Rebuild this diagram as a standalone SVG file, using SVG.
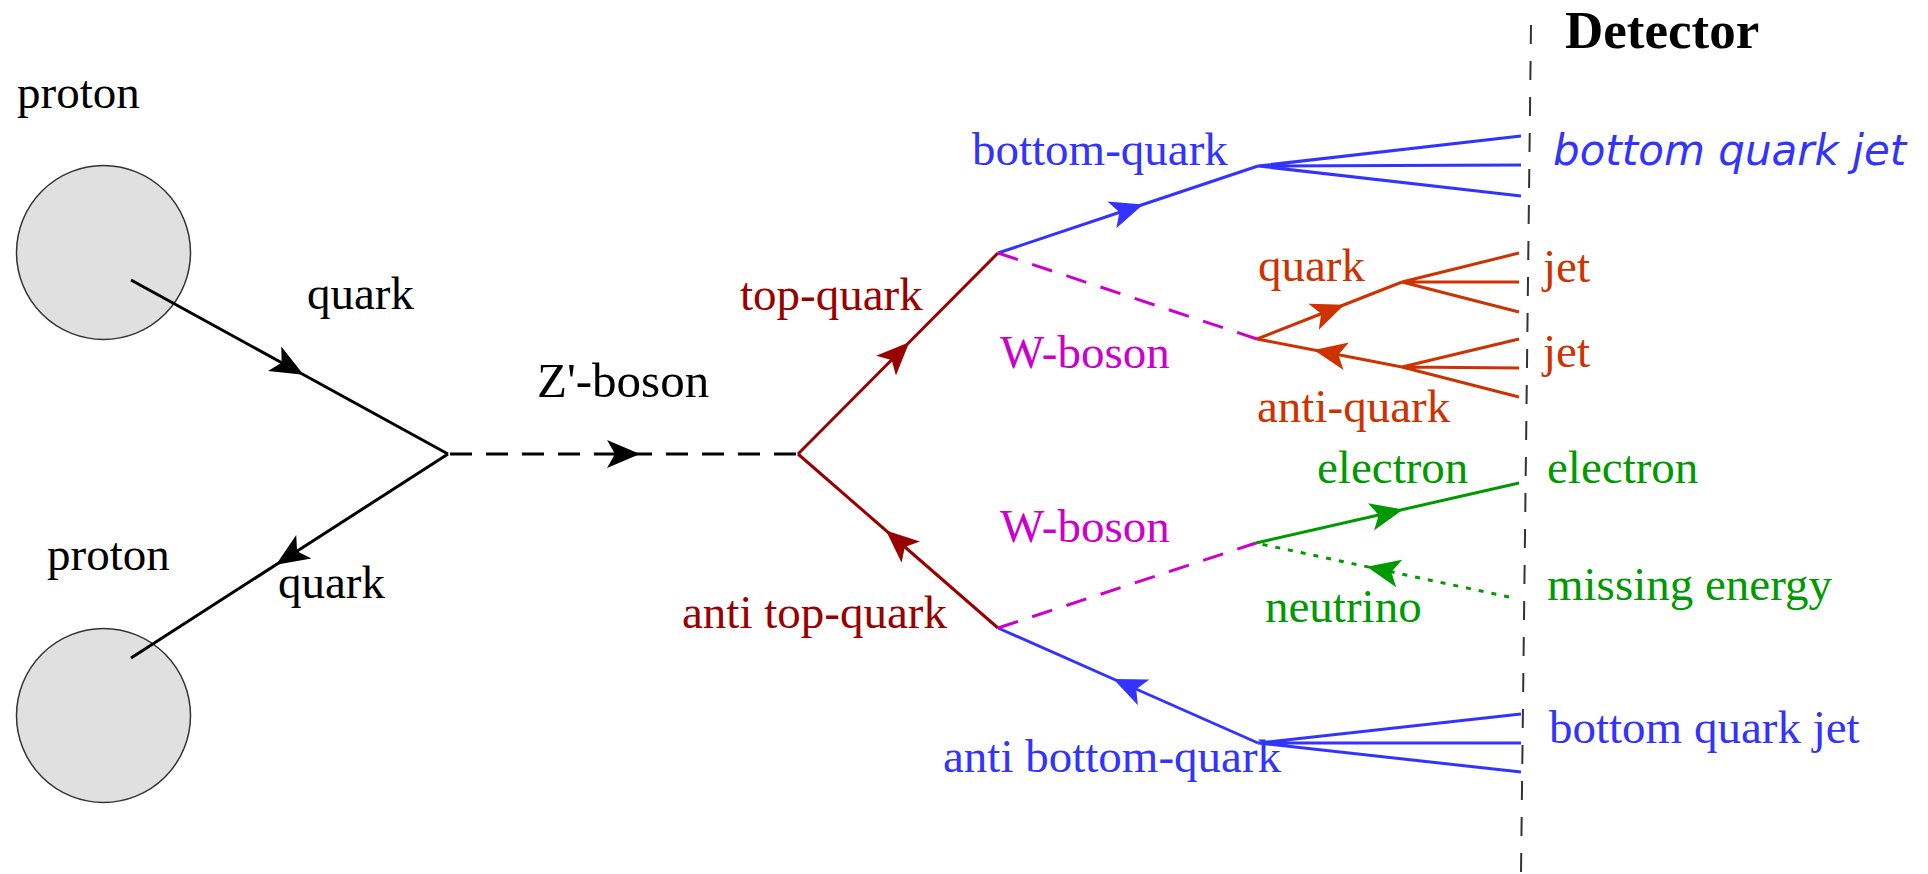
<svg xmlns="http://www.w3.org/2000/svg" width="1928" height="874" viewBox="0 0 1928 874">
<style>
.t{font-family:"Liberation Serif","Times New Roman",serif;font-size:47px}
.it{font-family:"DejaVu Sans",sans-serif;font-style:italic;font-size:42px}
.b{font-family:"Liberation Serif","Times New Roman",serif;font-size:53px;font-weight:bold}
.ln{fill:none;stroke-width:3;stroke-linejoin:miter}
.k{stroke:#000}.r{stroke:#990000}.bl{stroke:#3333ff}.o{stroke:#cc3300}.g{stroke:#009900}.m{stroke:#cc00cc}
.kt{fill:#000}.rt{fill:#990000}.blt{fill:#3333ff}.ot{fill:#cc3300}.gt{fill:#009900}.mt{fill:#cc00cc}
.dash{stroke-dasharray:22 14}
.wd{stroke-dasharray:21 15}
.dot{stroke-dasharray:5 8}
</style>
<defs>
<marker id="ak" markerUnits="userSpaceOnUse" viewBox="0 -15 33 30" refX="17" refY="0" markerWidth="33" markerHeight="30" orient="auto"><path d="M0,-14 L33,0 L0,14 L8,0 z" fill="#000"/></marker>
<marker id="ar" markerUnits="userSpaceOnUse" viewBox="0 -15 33 30" refX="17" refY="0" markerWidth="33" markerHeight="30" orient="auto"><path d="M0,-14 L33,0 L0,14 L8,0 z" fill="#990000"/></marker>
<marker id="ab" markerUnits="userSpaceOnUse" viewBox="0 -15 33 30" refX="17" refY="0" markerWidth="33" markerHeight="30" orient="auto"><path d="M0,-14 L33,0 L0,14 L8,0 z" fill="#3333ff"/></marker>
<marker id="ao" markerUnits="userSpaceOnUse" viewBox="0 -15 33 30" refX="17" refY="0" markerWidth="33" markerHeight="30" orient="auto"><path d="M0,-14 L33,0 L0,14 L8,0 z" fill="#cc3300"/></marker>
<marker id="ag" markerUnits="userSpaceOnUse" viewBox="0 -15 33 30" refX="17" refY="0" markerWidth="33" markerHeight="30" orient="auto"><path d="M0,-14 L33,0 L0,14 L8,0 z" fill="#009900"/></marker>
</defs>
<rect width="1928" height="874" fill="#fff"/>

<g id="detector">
<line x1="1531" y1="25" x2="1521" y2="874" stroke="#333" stroke-width="2" stroke-dasharray="19 17"/>
<text class="b kt" x="1565" y="48">Detector</text>
</g>

<g id="proton-top">
<circle cx="103.5" cy="252.5" r="87" fill="#e0e0e0" stroke="#333" stroke-width="1.5"/>
<text class="t kt" x="17" y="108">proton</text>
</g>
<g id="proton-bottom">
<circle cx="103.5" cy="715.5" r="87" fill="#e0e0e0" stroke="#333" stroke-width="1.5"/>
<text class="t kt" x="47" y="570">proton</text>
</g>

<g id="connectors">
<path class="ln k" d="M131,280 L289.5,367 L448,454" marker-mid="url(#ak)"/>
<path class="ln k" d="M448,454 L289.5,556 L131,658" marker-mid="url(#ak)"/>
<path class="ln k dash" d="M450,454 L624,454 L798,454" marker-mid="url(#ak)"/>
<path class="ln r" d="M798,454 L898,353.5 L998,253" marker-mid="url(#ar)"/>
<path class="ln r" d="M998,628 L898,541 L798,454" marker-mid="url(#ar)"/>
<path class="ln bl" d="M998,253 L1128,209.5 L1258,166" marker-mid="url(#ab)"/>
<path class="ln bl" d="M1258,743 L1128,685.5 L998,628" marker-mid="url(#ab)"/>
<path class="ln m wd" d="M998,253 L1257,339"/>
<path class="ln m wd" d="M998,628 L1256,543"/>
<path class="ln o" d="M1257,339 L1329.5,310.5 L1402,282" marker-mid="url(#ao)"/>
<path class="ln o" d="M1402,367 L1329.5,353 L1257,339" marker-mid="url(#ao)"/>
<path class="ln g" d="M1256,543 L1387.5,513 L1519,483" marker-mid="url(#ag)"/>
<path class="ln g dot" d="M1509,597 L1382.5,570 L1256,543" marker-mid="url(#ag)"/>
<path class="ln bl" d="M1258,166 L1521,136 M1258,166 L1521,165 M1258,166 L1521,196"/>
<path class="ln o" d="M1402,282 L1519,253 M1402,282 L1519,282 M1402,282 L1519,312"/>
<path class="ln o" d="M1402,367 L1519,339 M1402,367 L1519,368 M1402,367 L1519,397"/>
<path class="ln bl" d="M1258,743 L1521,714 M1258,743 L1521,743 M1258,743 L1521,772"/>
</g>

<g id="label-quark-in"><text class="t kt" x="307" y="309">quark</text></g>
<g id="label-quark-out"><text class="t kt" x="278" y="598">quark</text></g>
<g id="label-zboson"><text class="t kt" x="537" y="397" style="font-size:49px">Z'-boson</text></g>
<g id="label-top"><text class="t rt" x="740" y="310">top-quark</text></g>
<g id="label-antitop"><text class="t rt" x="682" y="628">anti top-quark</text></g>
<g id="label-bottom"><text class="t blt" x="972" y="165">bottom-quark</text></g>
<g id="label-antibottom"><text class="t blt" x="943" y="772">anti bottom-quark</text></g>
<g id="label-w1"><text class="t mt" x="1000" y="368">W-boson</text></g>
<g id="label-w2"><text class="t mt" x="1000" y="542">W-boson</text></g>
<g id="label-quark-w"><text class="t ot" x="1258" y="281">quark</text></g>
<g id="label-antiquark"><text class="t ot" x="1257" y="422">anti-quark</text></g>
<g id="label-electron"><text class="t gt" x="1317" y="483">electron</text></g>
<g id="label-neutrino"><text class="t gt" x="1265" y="622">neutrino</text></g>

<g id="det-bjet-top"><text class="it blt" x="1553" y="165">bottom quark jet</text></g>
<g id="det-jet1"><text class="t ot" x="1543" y="282">jet</text></g>
<g id="det-jet2"><text class="t ot" x="1543" y="367">jet</text></g>
<g id="det-electron"><text class="t gt" x="1547" y="483">electron</text></g>
<g id="det-missing"><text class="t gt" x="1547" y="600">missing energy</text></g>
<g id="det-bjet-bottom"><text class="t blt" x="1549" y="743">bottom quark jet</text></g>
</svg>
